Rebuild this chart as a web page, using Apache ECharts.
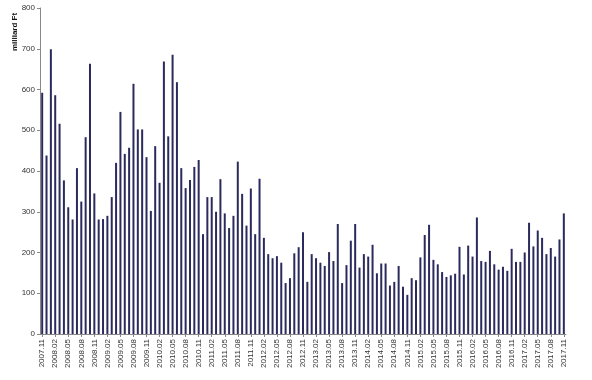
<!DOCTYPE html>
<html>
<head>
<meta charset="utf-8">
<script src="https://cdn.jsdelivr.net/npm/echarts@6/dist/echarts.min.js"></script>
<style>html,body{margin:0;padding:0;background:#fff}#c{width:592px;height:380px}</style>
</head>
<body>
<div id="c"></div>
<script>
// Monthly categories 2007.11 .. 2017.11
const startYear = 2007, startMonth = 11, monthCount = 121;
const categories = [];
for (let i = 0; i < monthCount; i++) {
  const m0 = startMonth - 1 + i;
  const y = startYear + Math.floor(m0 / 12);
  const m = (m0 % 12) + 1;
  categories.push(y + '.' + (m < 10 ? '0' + m : m));
}
const values = [
  592, 438, 699, 586, 516, 377, 311, 281, 407, 325, 483, 663,
  345, 281, 282, 290, 336, 420, 545, 442, 457, 614, 502, 502,
  434, 302, 461, 371, 669, 485, 685, 618, 407, 358, 378, 410,
  427, 245, 336, 336, 300, 380, 296, 260, 290, 423, 344, 266,
  357, 245, 381, 236, 196, 186, 191, 175, 125, 137, 198, 213,
  250, 128, 196, 186, 175, 167, 201, 179, 270, 125, 169, 229,
  270, 163, 196, 190, 219, 149, 173, 173, 119, 128, 167, 116,
  96, 137, 132, 188, 243, 268, 182, 171, 152, 140, 144, 148,
  214, 146, 217, 190, 286, 179, 177, 204, 171, 158, 165, 155,
  209, 177, 177, 200, 273, 215, 254, 236, 196, 211, 190, 232,
  296
];
const yTicks = [0, 100, 200, 300, 400, 500, 600, 700, 800];
const yAxisName = 'milliard Ft';

const chart = echarts.init(document.getElementById('c'), null, {renderer: 'canvas'});
chart.setOption({
  animation: false,
  backgroundColor: '#ffffff',
  grid: {left: 40, right: 26, top: 8, bottom: 46, containLabel: false, outerBoundsMode: 'none'},
  graphic: [{
    type: 'text',
    x: 15, y: 32,
    rotation: Math.PI / 2,
    style: {
      text: yAxisName,
      font: 'bold 8px "Liberation Sans", Arial, sans-serif',
      fill: '#111111',
      align: 'center',
      verticalAlign: 'middle'
    }
  }],
  xAxis: {
    type: 'category',
    data: categories,
    boundaryGap: true,
    axisLine: {lineStyle: {color: '#888888', width: 1}},
    axisTick: {show: true, interval: 2, alignWithLabel: true, length: 3, lineStyle: {color: '#888888'}},
    axisLabel: {
      interval: 2, rotate: 90, fontSize: 8, color: '#333333',
      fontFamily: 'Liberation Sans, Arial, sans-serif', margin: 5
    }
  },
  yAxis: {
    type: 'value',
    min: yTicks[0], max: yTicks[yTicks.length - 1], interval: 100,
    axisLine: {show: true, lineStyle: {color: '#888888', width: 1}},
    axisTick: {show: true, length: 3, lineStyle: {color: '#888888'}},
    splitLine: {show: false},
    axisLabel: {fontSize: 8, color: '#333333', fontFamily: 'Liberation Sans, Arial, sans-serif', margin: 5}
  },
  series: [{
    type: 'bar',
    data: values,
    barWidth: 2,
    itemStyle: {color: '#2b2a5c'},
    silent: true
  }]
});
</script>
</body>
</html>
